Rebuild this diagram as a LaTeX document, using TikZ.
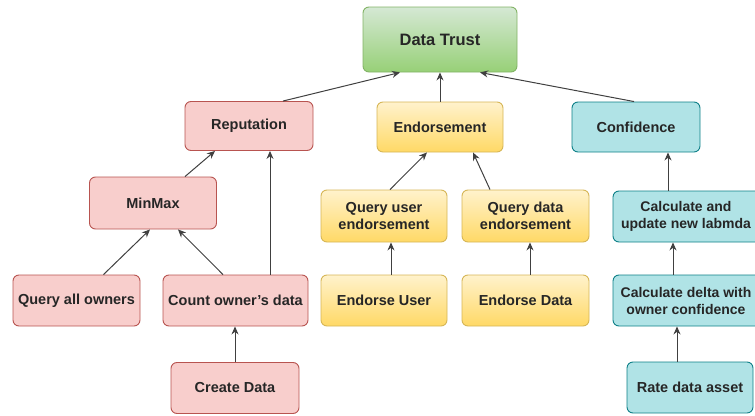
\documentclass[tikz,border=0pt]{standalone}
\usepackage{fontspec}
\setmainfont{Liberation Sans}
\usetikzlibrary{arrows.meta}
\definecolor{redfill}{HTML}{F8CECC}
\definecolor{redline}{HTML}{B85450}
\definecolor{yellowtop}{HTML}{FFF2CC}
\definecolor{yellowbot}{HTML}{FFD966}
\definecolor{yellowline}{HTML}{D6B656}
\definecolor{greentop}{HTML}{D5E8D4}
\definecolor{greenbot}{HTML}{97D077}
\definecolor{greenline}{HTML}{82B366}
\definecolor{bluefill}{HTML}{B0E3E6}
\definecolor{blueline}{HTML}{0E8088}
\tikzset{
  box/.style={rounded corners=6pt, inner sep=0pt, align=center, line width=0.9pt,
    font=\fontsize{14.5}{17}\selectfont\bfseries, text=black!85},
  redbox/.style={box, draw=redline, fill=redfill},
  yellowbox/.style={box, draw=yellowline, top color=yellowtop, bottom color=yellowbot},
  greenbox/.style={box, draw=greenline, top color=greentop, bottom color=greenbot,
    font=\fontsize{16.5}{19}\selectfont\bfseries},
  bluebox/.style={box, draw=blueline, fill=bluefill},
  boxtext/.style={inner sep=0pt, align=center, font=\fontsize{14}{17}\selectfont\bfseries, text=black!85},
  arr/.style={draw=black!75, line width=1pt, -{Stealth[length=8pt,width=7pt]}}
}
\begin{document}
\begin{tikzpicture}[x=1pt,y=-1pt]
\useasboundingbox (0,0) rectangle (755,415);
\node[greenbox, minimum width=154pt, minimum height=65pt] (dt) at (440,39.5) {Data Trust};
\node[redbox, minimum width=128pt, minimum height=49pt] (rep) at (249,126) {Reputation};
\node[yellowbox, minimum width=126pt, minimum height=50pt] (end) at (440,127) {Endorsement};
\node[bluebox, minimum width=128pt, minimum height=50pt] (conf) at (636,127) {Confidence};
\node[redbox, minimum width=127pt, minimum height=52pt] (mm) at (153,203) {MinMax};
\node[redbox, minimum width=127pt, minimum height=51pt] (qao) at (76.5,300.5) {Query all owners};
\node[redbox, minimum width=145pt, minimum height=51pt] (cod) at (235.5,300.5) {Count owner's data};
\node[redbox, minimum width=128pt, minimum height=51pt] (cd) at (235,388) {Create Data};
\node[yellowbox, minimum width=126pt, minimum height=52pt] (que) at (384,216) {Query user\\endorsement};
\node[yellowbox, minimum width=127pt, minimum height=52pt] (qde) at (525.5,216) {Query data\\endorsement};
\node[yellowbox, minimum width=126pt, minimum height=51pt] (eu) at (384,300.5) {Endorse User};
\node[yellowbox, minimum width=127pt, minimum height=51pt] (ed) at (525.5,300.5) {Endorse Data};
\node[bluebox, minimum width=156pt, minimum height=51pt] (cu) at (691,216.5) {};
\node[boxtext] (cut) at (686,216.5) {Calculate and\\update new labmda};
\node[bluebox, minimum width=156pt, minimum height=51pt] (cdl) at (691,300.5) {};
\node[boxtext] (cdlt) at (686,300.5) {Calculate delta with\\owner confidence};
\node[bluebox, minimum width=126pt, minimum height=51pt] (rda) at (690,387.5) {Rate data asset};

\draw[arr] ([xshift=34pt]rep.north) -- ([xshift=-40pt]dt.south);
\draw[arr] (end.north) -- (dt.south);
\draw[arr] ([xshift=-2pt]conf.north) -- ([xshift=40pt]dt.south);
\draw[arr] ([xshift=32pt]mm.north) -- ([xshift=-34pt]rep.south);
\draw[arr] ([xshift=34.5pt]cod.north) -- ([xshift=21pt]rep.south);
\draw[arr] ([xshift=27pt]qao.north) -- ([xshift=-3pt]mm.south);
\draw[arr] ([xshift=-12.5pt]cod.north) -- ([xshift=25pt]mm.south);
\draw[arr] (cd.north) -- (cd.north |- cod.south);
\draw[arr] ([xshift=6pt]que.north) -- ([xshift=-13pt]end.south);
\draw[arr] ([xshift=-35.5pt]qde.north) -- ([xshift=33pt]end.south);
\draw[arr] ([xshift=7pt]eu.north) -- ([xshift=7pt]que.south);
\draw[arr] ([xshift=4.5pt]ed.north) -- ([xshift=4.5pt]qde.south);
\draw[arr] ([xshift=-23pt]cu.north) -- ([xshift=32pt]conf.south);
\draw[arr] ([xshift=-18pt]cdl.north) -- ([xshift=-18pt]cu.south);
\draw[arr] ([xshift=-13pt]rda.north) -- ([xshift=-13pt]rda.north |- cdl.south);
\end{tikzpicture}
\end{document}
